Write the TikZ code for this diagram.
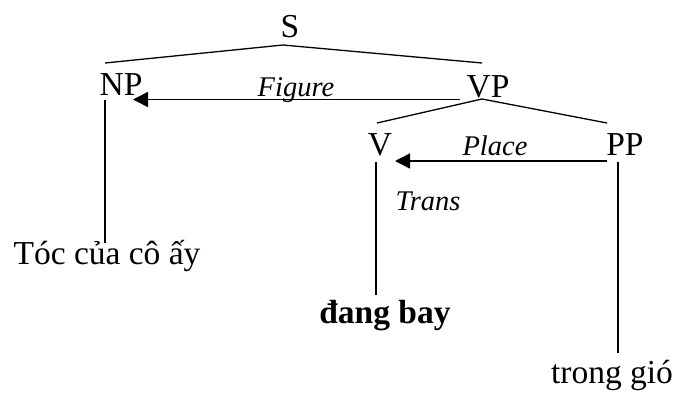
\documentclass[tikz,border=0pt]{standalone}
\usepackage{fontspec}
\setmainfont{Liberation Serif}
\usetikzlibrary{arrows.meta}
\begin{document}
\begin{tikzpicture}[x=1pt,y=-1pt,
  lbl/.style={inner sep=0pt,anchor=base,font=\fontsize{33.5}{36}\selectfont},
  rel/.style={inner sep=0pt,anchor=base,font=\fontsize{28.5}{30}\selectfont\itshape},
  branch/.style={line width=1.3pt},
  rarrow/.style={line width=1.6pt,-{Triangle[length=15pt,width=15pt]}}]
\useasboundingbox (0,0) rectangle (678,392);
% category nodes
\node[lbl] (S) at (290,37) {S};
\node[lbl] (NP) at (121,95) {NP};
\node[lbl] (VP) at (488,97) {VP};
\node[lbl] (V) at (380,155) {V};
\node[lbl] (PP) at (625,155) {PP};
% leaves
\node[lbl] (toc) at (107,264) {Tóc của cô ấy};
\node[lbl,font=\fontsize{33.5}{36}\selectfont\bfseries] (dang) at (385,323) {đang bay};
\node[lbl] (trong) at (612,383) {trong gió};
% relation labels
\node[rel] (fig) at (296,96) {Figure};
\node[rel] (place) at (495,155) {Place};
\node[rel] (trans) at (428,210) {Trans};
% branch points
\coordinate (Sapex) at (283,45);
\coordinate (Sl) at (105,63);
\coordinate (Sr) at (482,63);
\coordinate (VPapex) at (482,99);
\coordinate (VPl) at (377,123);
\coordinate (VPr) at (607,123);
\coordinate (figs) at (460,99.5);
\coordinate (fige) at (133,99.5);
\coordinate (pls) at (607,161);
\coordinate (ple) at (395,161);
\coordinate (NPd) at (105,100);
\coordinate (NPe) at (105,243);
\coordinate (Vd) at (376,162);
\coordinate (Ve) at (376,295);
\coordinate (PPd) at (618,162);
\coordinate (PPe) at (618,353);
% branches
\draw[branch] (Sl) -- (Sapex) -- (Sr);
\draw[branch] (VPl) -- (VPapex) -- (VPr);
\draw[branch] (NPd) -- (NPe);
\draw[branch] (Vd) -- (Ve);
\draw[branch] (PPd) -- (PPe);
% arrows
\draw[rarrow] (figs) -- (fige);
\draw[rarrow] (pls) -- (ple);
\end{tikzpicture}
\end{document}
